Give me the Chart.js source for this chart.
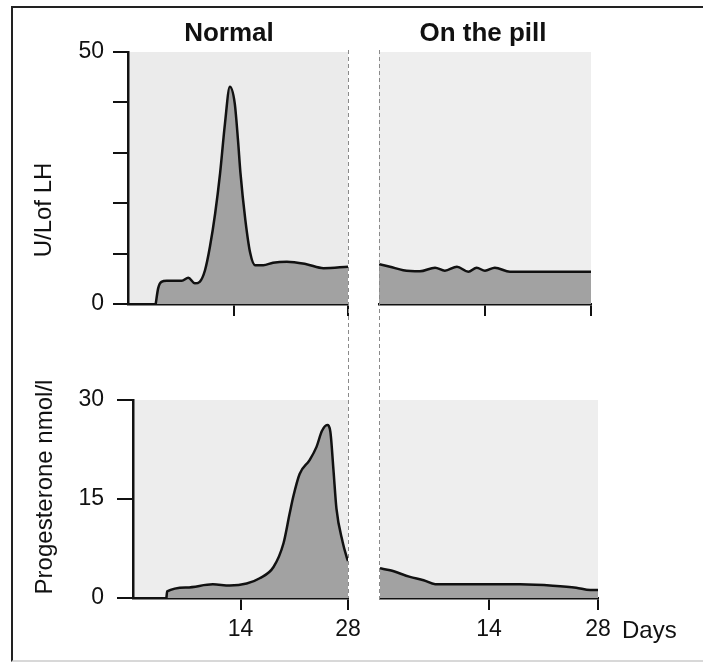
<!DOCTYPE html>
<html><head><meta charset="utf-8">
<script src="https://cdn.jsdelivr.net/npm/chart.js@4/dist/chart.umd.min.js"></script>
<style>
html,body{margin:0;padding:0;background:#fff;overflow:hidden;width:703px;height:664px;}
#wrap{position:relative;width:703px;height:664px;overflow:hidden;font-family:'Liberation Sans',Arial,Helvetica,sans-serif;color:#111;}
canvas{position:absolute;left:0;top:0;}
.frame{position:absolute;left:11px;top:6px;width:760px;height:652px;border:2.5px solid #222;border-bottom-color:#d8d8d8;}
.head{position:absolute;font-weight:bold;font-size:26px;line-height:30px;text-align:center;width:200px;white-space:nowrap;}
.ytitle{position:absolute;font-size:24px;line-height:28px;width:300px;text-align:center;transform:rotate(-90deg);white-space:nowrap;}
.unit{position:absolute;font-size:24px;line-height:28px;white-space:nowrap;}
</style></head>
<body>
<div id="wrap">
  <div class="frame"></div>
  <canvas id="bl" width="703" height="664"></canvas>
  <canvas id="br" width="703" height="664"></canvas>
  <canvas id="tl" width="703" height="664"></canvas>
  <canvas id="tr" width="703" height="664"></canvas>
  <div class="head" id="h1" style="left:129px;top:17px;"></div>
  <div class="head" id="h2" style="left:383px;top:17px;"></div>
  <div class="ytitle" id="y1" style="left:-107px;top:196px;"></div>
  <div class="ytitle" id="y2" style="left:-106px;top:473px;"></div>
  <div class="unit" id="u1" style="left:622px;top:616px;"></div>
</div>
<script>
// ---- data ----
const panelTitles = ['Normal', 'On the pill'];
const yTitles = ['U/Lof LH', 'Progesterone nmol/l'];
const xUnit = 'Days';
const xTickDays = [14, 28];
const lhTicks = [0, 10, 20, 30, 40, 50];
const lhLabeled = [0, 50];
const progTicks = [0, 15, 30];
const progLabeled = [0, 15, 30];

const lhNormalDays   = [4.4, 4.7, 5.1, 5.75, 7.6, 8.4, 9.2, 9.8, 10.45, 11.06, 11.7, 12.3, 12.9, 13.5, 14.1, 14.5, 14.8, 15.4, 16.0, 16.6, 17.6, 18.8, 20.5, 22.9, 25.0, 28];
const lhNormalValues = [0, 3.1, 4.4, 4.6, 4.6, 5.2, 4.1, 4.4, 6.7, 11.4, 18, 25.9, 35.8, 43.1, 39.8, 32.5, 26, 16.7, 10.1, 7.7, 7.7, 8.2, 8.4, 7.9, 7.1, 7.4];

const lhPillDays   = [0, 1.45, 3.2, 5.4, 7.4, 8.7, 10.3, 11.8, 12.9, 14.0, 15.3, 17.3, 20.8, 28];
const lhPillValues = [7.9, 7.4, 6.7, 6.5, 7.2, 6.6, 7.4, 6.4, 7.2, 6.6, 7.2, 6.4, 6.4, 6.4];

const progNormalDays   = [4.35, 4.45, 7.0, 10.4, 12.6, 14.8, 16.5, 18.3, 19.6, 20.4, 20.9, 21.7, 23.0, 23.9, 24.6, 25.3, 25.7, 26.1, 26.5, 27.3, 27.8, 28];
const progNormalValues = [0, 1.0, 1.6, 2.07, 1.9, 2.2, 3.0, 4.7, 8.3, 12.8, 15.5, 18.8, 20.9, 22.9, 25.3, 26.2, 25.2, 19.5, 13.5, 8.5, 6.3, 5.6];

const progPillDays   = [0, 1.3, 3.85, 5.6, 7.1, 11.6, 18.0, 22.2, 25.2, 27, 28];
const progPillValues = [4.5, 4.2, 3.2, 2.7, 2.1, 2.1, 2.07, 1.87, 1.57, 1.2, 1.2];

// ---- text ----
document.getElementById('h1').textContent = panelTitles[0];
document.getElementById('h2').textContent = panelTitles[1];
document.getElementById('y1').textContent = yTitles[0];
document.getElementById('y2').textContent = yTitles[1];
document.getElementById('u1').textContent = xUnit;

Chart.defaults.font.family = "'Liberation Sans', Arial, Helvetica, sans-serif";
Chart.defaults.color = '#111';

const panelDeco = {
  id: 'panelDeco',
  beforeDraw(chart, args, opts) {
    const a = chart.chartArea, c = chart.ctx;
    c.save();
    c.fillStyle = opts.bg;
    c.fillRect(a.left, a.top, a.right - a.left, a.bottom - a.top);
    c.restore();
  },
  afterDatasetsDraw(chart, args, opts) {
    if (opts.dashValue === undefined) return;
    const a = chart.chartArea, c = chart.ctx;
    const x = Math.round(chart.scales.x.getPixelForValue(opts.dashValue)) + 0.5;
    c.save();
    c.strokeStyle = '#8a8a8a';
    c.lineWidth = 1;
    c.setLineDash([4, 3]);
    c.beginPath();
    c.moveTo(x, a.top - 2);
    c.lineTo(x, opts.dashTo);
    c.stroke();
    c.restore();
  }
};

function makeChart(id, days, values, o) {
  const W = 703, H = 664, XH = 50;
  return new Chart(document.getElementById(id), {
    type: 'line',
    data: {
      datasets: [{
        data: days.map((d, i) => ({ x: d, y: values[i] })),
        borderColor: '#111',
        borderWidth: 2.5,
        backgroundColor: '#a2a2a2',
        fill: 'origin',
        pointRadius: 0,
        tension: 0.4,
        cubicInterpolationMode: 'monotone',
        borderJoinStyle: 'round'
      }]
    },
    options: {
      responsive: false,
      animation: false,
      devicePixelRatio: 1,
      events: [],
      layout: { padding: { left: o.left - o.yW, right: W - o.right, top: o.top, bottom: H - o.bottom - XH } },
      plugins: {
        legend: { display: false },
        tooltip: { enabled: false },
        panelDeco: { bg: o.bg, dashValue: o.dashValue, dashTo: o.dashTo }
      },
      scales: {
        x: {
          type: 'linear', min: o.xMin, max: 28,
          afterBuildTicks: s => { s.ticks = xTickDays.map(v => ({ value: v })); },
          afterFit: s => { s.height = XH; s.paddingLeft = 0; s.paddingRight = 0; },
          ticks: { display: o.xLabels, padding: 6, color: '#111', font: { size: 23 }, maxRotation: 0, autoSkip: false },
          grid: { drawOnChartArea: false, drawTicks: true, tickLength: 12, color: '#111', lineWidth: 2 },
          border: { display: true, color: '#111', width: 2.5 }
        },
        y: {
          display: o.yDisplay, min: 0, max: o.yMax,
          afterBuildTicks: s => { s.ticks = o.yTicks.map(v => ({ value: v })); },
          afterFit: s => { s.width = o.yW; s.paddingTop = 0; s.paddingBottom = 0; },
          ticks: { callback: v => (o.yLabeled.includes(v) ? String(v) : ''), padding: o.yPad, color: '#111', font: { size: 23 }, autoSkip: false },
          grid: { drawOnChartArea: false, drawTicks: true, tickLength: o.yTickLen, color: '#111', lineWidth: 2 },
          border: { display: true, color: '#111', width: 2.5 }
        }
      }
    },
    plugins: [panelDeco]
  });
}

makeChart('bl', progNormalDays, progNormalValues, {
  left: 133, right: 348, top: 400, bottom: 598, yW: 70, xMin: 0, yMax: 30,
  yTicks: progTicks, yLabeled: progLabeled, yDisplay: true, yPad: 13, yTickLen: 16,
  xLabels: true, bg: '#ededed'
});
makeChart('br', progPillDays, progPillValues, {
  left: 380, right: 598, top: 400, bottom: 598, yW: 0, xMin: 0, yMax: 30,
  yTicks: progTicks, yLabeled: [], yDisplay: false, yPad: 0, yTickLen: 0,
  xLabels: true, bg: '#eeeeee'
});
makeChart('tl', lhNormalDays, lhNormalValues, {
  left: 128, right: 348, top: 52, bottom: 304, yW: 70, xMin: 1, yMax: 50,
  yTicks: lhTicks, yLabeled: lhLabeled, yDisplay: true, yPad: 9, yTickLen: 15,
  xLabels: false, bg: '#ebebeb', dashValue: 28, dashTo: 598
});
makeChart('tr', lhPillDays, lhPillValues, {
  left: 379, right: 591, top: 52, bottom: 304, yW: 0, xMin: 0, yMax: 50,
  yTicks: lhTicks, yLabeled: [], yDisplay: false, yPad: 0, yTickLen: 0,
  xLabels: false, bg: '#eeeeee', dashValue: 0, dashTo: 600
});
</script>
</body></html>
